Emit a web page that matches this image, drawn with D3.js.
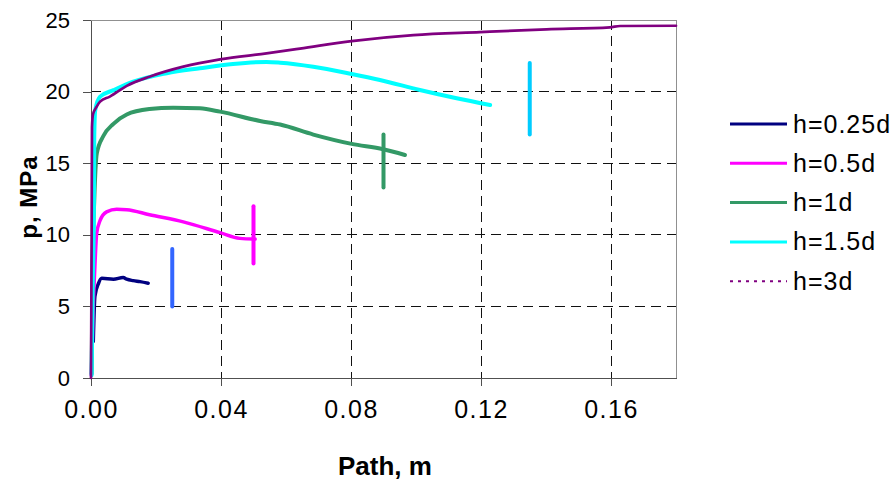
<!DOCTYPE html>
<html>
<head>
<meta charset="utf-8">
<style>
  body { margin: 0; background: #fff; }
  .axis text { font-family: "Liberation Sans", Arial, sans-serif; fill: #000; }
  .axis path, .axis line { stroke: #505050; shape-rendering: crispEdges; }
  .grid line { stroke: #111; stroke-dasharray: 10,6; shape-rendering: crispEdges; }
  .label { font-family: "Liberation Sans", Arial, sans-serif; font-weight: bold; }
  .legend text { font-family: "Liberation Sans", Arial, sans-serif; font-size: 25px; letter-spacing: 1px; }
</style>
</head>
<body>
<div id="chart"></div>
<script src="https://d3js.org/d3.v7.min.js"></script>
<script>

var seriesNames = ["h=0.25d", "h=0.5d", "h=1d", "h=1.5d", "h=3d"];
var seriesColors = ["#000080", "#ff00ff", "#339966", "#00ffff", "#800080"];

// path (m) and pressure (MPa)
var h025Path = [0.0007, 0.0012, 0.0023, 0.0033, 0.0069, 0.0099, 0.011, 0.013, 0.0151, 0.0176];
var h025P    = [2.55, 5.7, 6.6, 6.96, 6.9, 7.02, 6.9, 6.8, 6.73, 6.62];

var h05Path = [0.0001, 0.0004, 0.0007, 0.0012, 0.00175, 0.0028, 0.0048, 0.0079, 0.011, 0.018, 0.0284, 0.0397, 0.0458, 0.0505];
var h05P    = [0.2, 2.5, 5.0, 7.8, 10.1, 11.0, 11.6, 11.78, 11.75, 11.4, 10.9, 10.15, 9.75, 9.7];

var h1Path = [0.0002, 0.0005, 0.001, 0.0018, 0.0038, 0.0069, 0.011, 0.018, 0.0253, 0.0335, 0.0397, 0.052, 0.0582, 0.0684, 0.0802, 0.0899, 0.0966];
var h1P    = [0.3, 8.0, 12.4, 15.7, 16.9, 17.75, 18.4, 18.78, 18.88, 18.83, 18.6, 17.95, 17.7, 17.0, 16.35, 15.97, 15.57];

var h15Path = [0.0002, 0.0005, 0.0009, 0.001, 0.0013, 0.0028, 0.0069, 0.013, 0.0233, 0.0335, 0.0437, 0.054, 0.0582, 0.0684, 0.0802, 0.0889, 0.1012, 0.1125, 0.1228];
var h15P    = [0.2, 6.0, 12.0, 16.8, 18.7, 19.65, 20.1, 20.7, 21.28, 21.63, 21.93, 22.07, 22.02, 21.74, 21.23, 20.81, 20.11, 19.53, 19.06];

var h3Path = [0.0, 0.0002, 0.0003, 0.0006, 0.00175, 0.0028, 0.0058, 0.011, 0.018, 0.0284, 0.0397, 0.054, 0.0643, 0.0802, 0.0992, 0.1197, 0.1402, 0.1597, 0.1628, 0.18];
var h3P    = [0.0, 10.0, 17.5, 18.4, 18.95, 19.3, 19.65, 20.4, 21.04, 21.74, 22.25, 22.67, 23.0, 23.53, 23.95, 24.16, 24.35, 24.49, 24.58, 24.6];

var markerPath  = [0.025, 0.05, 0.09, 0.135];
var markerLow   = [5, 8, 13.3, 17];
var markerHigh  = [9, 12, 17, 22];
var markerColors = ["#3366ff", "#ff00ff", "#339966", "#00ccff"];

var xTicks = [0, 0.04, 0.08, 0.12, 0.16];
var yTicks = [0, 5, 10, 15, 20, 25];

var seriesPath = [h025Path, h05Path, h1Path, h15Path, h3Path];
var seriesP = [h025P, h05P, h1P, h15P, h3P];
var seriesWidth = [3.5, 3.5, 4, 4, 2.7];

var width = 894, height = 480,
    plotLeft = 91, plotRight = 676, plotTop = 20, plotBottom = 378;

var x = d3.scaleLinear().domain([0, 0.18]).range([plotLeft, plotRight]);
var y = d3.scaleLinear().domain([0, 25]).range([plotBottom, plotTop]);

var svg = d3.select("#chart").append("svg")
    .attr("width", width)
    .attr("height", height);

// grid
svg.append("g").attr("class", "grid")
  .selectAll("line").data(yTicks.slice(1, -1))
  .enter().append("line")
    .attr("x1", plotLeft).attr("x2", plotRight)
    .attr("y1", function(d) { return y(d); })
    .attr("y2", function(d) { return y(d); });

svg.append("g").attr("class", "grid")
  .selectAll("line").data(xTicks.slice(1))
  .enter().append("line")
    .attr("y1", plotTop).attr("y2", plotBottom)
    .attr("x1", function(d) { return x(d); })
    .attr("x2", function(d) { return x(d); });

// frame top/right
svg.append("path")
    .attr("d", "M" + plotLeft + "," + plotTop + "H" + plotRight + "V" + plotBottom)
    .attr("fill", "none")
    .attr("stroke", "#909090")
    .attr("shape-rendering", "crispEdges");

svg.append("g")
    .attr("class", "axis")
    .attr("transform", "translate(" + plotLeft + ",0)")
    .call(d3.axisLeft(y).tickValues(yTicks).tickSize(8).tickSizeOuter(0).tickPadding(13).tickFormat(d3.format("d")))
    .selectAll("text").style("font-size", "22px");

svg.append("g")
    .attr("class", "axis")
    .attr("transform", "translate(0," + plotBottom + ")")
    .call(d3.axisBottom(x).tickValues(xTicks).tickSize(8).tickSizeOuter(0).tickPadding(14).tickFormat(d3.format(".2f")))
    .selectAll("text").style("font-size", "25px").style("letter-spacing", "1.5px");

var line = d3.line()
    .curve(d3.curveMonotoneX)
    .x(function(d) { return x(d[0]); })
    .y(function(d) { return y(d[1]); });

seriesNames.forEach(function(name, i) {
  var pts = seriesPath[i].map(function(v, j) { return [v, seriesP[i][j]]; });
  svg.append("path")
      .datum(pts)
      .attr("d", line)
      .attr("fill", "none")
      .attr("stroke", seriesColors[i])
      .attr("stroke-width", seriesWidth[i])
      .attr("stroke-linejoin", "round")
      .attr("stroke-linecap", "round");
});

svg.append("g").selectAll("line")
    .data(markerPath)
  .enter().append("line")
    .attr("x1", function(d) { return x(d); })
    .attr("x2", function(d) { return x(d); })
    .attr("y1", function(d, i) { return y(markerLow[i]); })
    .attr("y2", function(d, i) { return y(markerHigh[i]); })
    .attr("stroke", function(d, i) { return markerColors[i]; })
    .attr("stroke-width", 4)
    .attr("stroke-linecap", "round");

// axis titles
svg.append("text")
    .attr("class", "label")
    .attr("x", 385).attr("y", 475)
    .attr("text-anchor", "middle")
    .style("font-size", "26px")
    .text("Path, m");

svg.append("text")
    .attr("class", "label")
    .attr("transform", "translate(37,197) rotate(-90)")
    .attr("text-anchor", "middle")
    .style("font-size", "24px")
    .style("letter-spacing", "1px")
    .text("p, MPa");

// legend
var legend = svg.append("g").attr("class", "legend")
  .selectAll("g").data(seriesNames)
  .enter().append("g")
    .attr("transform", function(d, i) { return "translate(730," + (124 + i * 39.3) + ")"; });

legend.append("line")
    .attr("x1", 0).attr("x2", 57)
    .attr("stroke", function(d, i) { return seriesColors[i]; })
    .attr("stroke-width", function(d, i) { return i == 4 ? 2 : 3; })
    .attr("stroke-dasharray", function(d, i) { return i == 4 ? "3,5" : null; });

legend.append("text")
    .attr("x", 63).attr("y", 8.5)
    .text(function(d) { return d; });

</script>
</body>
</html>
